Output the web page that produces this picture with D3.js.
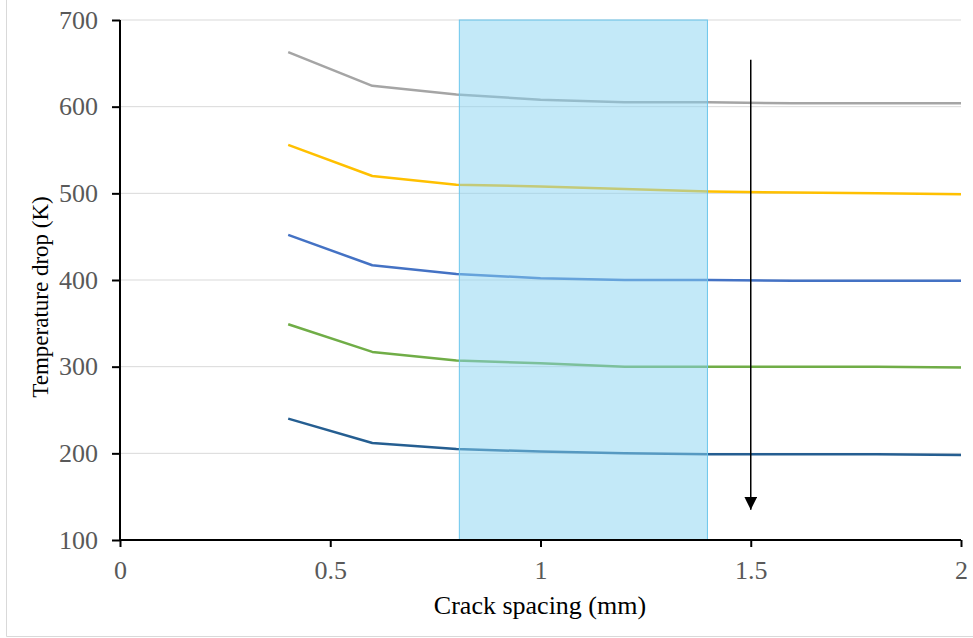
<!DOCTYPE html>
<html><head><meta charset="utf-8">
<script src="https://cdn.jsdelivr.net/npm/d3@7"></script>
<style>body{margin:0;background:#fff}svg{display:block}</style>
</head><body>
<script>
const crackSpacing = [0.4, 0.6, 0.8, 1.0, 1.2, 1.4, 1.6, 1.8, 2.0];
const seriesGray   = [663, 624, 614, 608, 605, 605, 604, 604, 604];
const seriesYellow = [556, 520, 510, 508, 505, 502, 501, 500, 499];
const seriesBlue   = [452, 417, 407, 402, 400, 400, 399, 399, 399];
const seriesGreen  = [349, 317, 307, 304, 300, 300, 300, 300, 299];
const seriesNavy   = [240, 212, 205, 202, 200, 199, 199, 199, 198];
const seriesColors = ["#a5a5a5", "#ffc000", "#4472c4", "#70ad47", "#255e91"];
const xTicks = [0, 0.5, 1, 1.5, 2];
const xTickLabels = ["0", "0.5", "1", "1.5", "2"];
const yTicks = [100, 200, 300, 400, 500, 600, 700];
const shadedRange = [0.807, 1.397];
const arrowX = 1.5, arrowFrom = 654, arrowTo = 135;

const W = 973, H = 638;
const svg = d3.select("body").append("svg").attr("width", W).attr("height", H);
const x = d3.scaleLinear().domain([0, 2]).range([120, 961]);
const y = d3.scaleLinear().domain([100, 700]).range([540, 20]);

// outer frame
svg.append("path").attr("d", `M6.5,-5 V636.5 H980`).attr("fill", "none").attr("stroke", "#d9d9d9").attr("stroke-width", 1);

// grid
svg.append("g").selectAll("line").data(yTicks.filter(d => d > 100)).join("line")
  .attr("x1", x(0)).attr("x2", x(2)).attr("y1", d => y(d)).attr("y2", d => y(d))
  .attr("stroke", "#d9d9d9").attr("stroke-width", 1);

// series
const series = [seriesGray, seriesYellow, seriesBlue, seriesGreen, seriesNavy];
const line = d3.line().x((d, i) => x(crackSpacing[i])).y(d => y(d));
svg.append("g").selectAll("path").data(series).join("path")
  .attr("d", d => line(d)).attr("fill", "none")
  .attr("stroke", (d, i) => seriesColors[i]).attr("stroke-width", 2.5)
  .attr("stroke-linejoin", "round");

// shaded rect
svg.append("rect")
  .attr("x", x(shadedRange[0])).attr("y", y(700))
  .attr("width", x(shadedRange[1]) - x(shadedRange[0])).attr("height", y(100) - y(700))
  .attr("fill", "#87d3f2").attr("fill-opacity", 0.5)
  .attr("stroke", "#6cc6ec").attr("stroke-width", 1);

// arrow
svg.append("defs").append("marker").attr("id", "ah").attr("viewBox", "0 0 10 10")
  .attr("refX", 10).attr("refY", 5).attr("markerWidth", 13).attr("markerHeight", 13)
  .attr("markerUnits", "userSpaceOnUse").attr("orient", "auto")
  .append("path").attr("d", "M0,0 L10,5 L0,10 Z").attr("fill", "#000");
svg.append("line").attr("x1", x(arrowX)).attr("x2", x(arrowX))
  .attr("y1", y(arrowFrom)).attr("y2", y(arrowTo))
  .attr("stroke", "#000").attr("stroke-width", 1.5).attr("marker-end", "url(#ah)");

// axes
const font = "'Liberation Serif', 'Times New Roman', serif";
const xAxis = svg.append("g").attr("transform", `translate(0,${y(100)})`)
  .call(d3.axisBottom(x).tickValues(xTicks).tickFormat((d, i) => xTickLabels[i]).tickSizeOuter(0).tickSize(7).tickPadding(14));
const yAxis = svg.append("g").attr("transform", `translate(${x(0)},0)`)
  .call(d3.axisLeft(y).tickValues(yTicks).tickSizeOuter(0).tickSize(8).tickPadding(14));
[xAxis, yAxis].forEach(g => {
  g.attr("font-size", null).attr("font-family", null);
  g.select(".domain").attr("stroke", "#000").attr("stroke-width", 2);
  g.selectAll(".tick line").attr("stroke", "#000").attr("stroke-width", 2);
  g.selectAll(".tick text").attr("fill", "#595959").style("font-family", font).style("font-size", "26px");
});
xAxis.select(".domain").attr("d", `M${x(0)},0H${x(2)}`);
yAxis.select(".domain").attr("d", `M0,${y(100)}V${y(700)}`);

svg.append("text").attr("x", 540).attr("y", 614)
  .attr("text-anchor", "middle").style("font-family", font).style("font-size", "26px").attr("fill", "#000")
  .text("Crack spacing (mm)");
svg.append("text").attr("transform", `translate(48,297) rotate(-90)`)
  .attr("text-anchor", "middle").style("font-family", font).style("font-size", "23px").attr("fill", "#000")
  .text("Temperature drop (K)");
</script>
</body></html>
